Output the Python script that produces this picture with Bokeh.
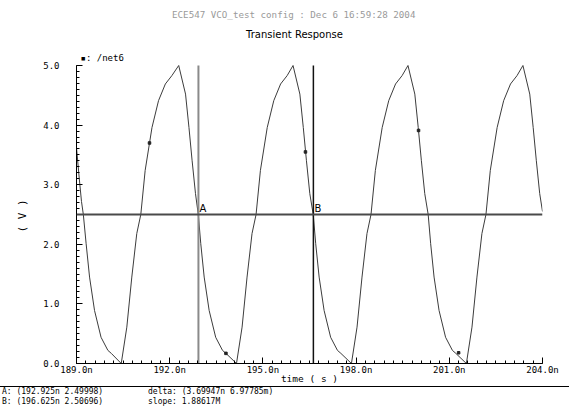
from bokeh.plotting import figure
from bokeh.layouts import column
from bokeh.models import (Range1d, SingleIntervalTicker, PrintfTickFormatter,
                          Span, Label, Title, Div)
from bokeh.embed import file_html
from bokeh.resources import INLINE

# /net6 transient waveform (time in ns, voltage in V)
time_ns = [
    189.00, 189.09, 189.16, 189.22, 189.31, 189.42, 189.58, 189.79, 190.01, 190.12, 190.44,
    190.62, 190.78, 190.94, 191.07, 191.21, 191.43, 191.64, 191.86, 192.07, 192.29,
    192.51, 192.62, 192.72, 192.83, 192.92, 193.00, 193.11, 193.27, 193.48, 193.70, 193.81, 194.15,
    194.33, 194.49, 194.65, 194.78, 194.92, 195.14, 195.35, 195.57, 195.78, 195.97,
    196.19, 196.30, 196.40, 196.51, 196.62, 196.70, 196.81, 196.97, 197.18, 197.40, 197.51, 197.85,
    198.03, 198.19, 198.35, 198.48, 198.62, 198.84, 199.05, 199.27, 199.48, 199.67,
    199.89, 200.00, 200.10, 200.21, 200.32, 200.40, 200.51, 200.67, 200.88, 201.10, 201.21, 201.55,
    201.73, 201.89, 202.05, 202.18, 202.32, 202.54, 202.75, 202.97, 203.18, 203.37,
    203.59, 203.70, 203.80, 203.91, 204.00,
]
net6_v = [
    3.62, 3.10, 2.72, 2.50, 2.01, 1.45, 0.89, 0.44, 0.22, 0.17, 0.00,
    0.61, 1.45, 2.18, 2.50, 3.24, 3.96, 4.41, 4.69, 4.83, 5.00,
    4.52, 3.96, 3.41, 2.85, 2.50, 2.01, 1.45, 0.89, 0.44, 0.22, 0.17, 0.00,
    0.61, 1.45, 2.18, 2.50, 3.24, 3.96, 4.41, 4.69, 4.83, 5.00,
    4.52, 3.96, 3.41, 2.85, 2.50, 2.01, 1.45, 0.89, 0.44, 0.22, 0.17, 0.00,
    0.61, 1.45, 2.18, 2.50, 3.24, 3.96, 4.41, 4.69, 4.83, 5.00,
    4.52, 3.96, 3.41, 2.85, 2.50, 2.01, 1.45, 0.89, 0.44, 0.22, 0.17, 0.00,
    0.61, 1.45, 2.18, 2.50, 3.24, 3.96, 4.41, 4.69, 4.83, 5.00,
    4.52, 3.96, 3.41, 2.85, 2.55,
]

# trace markers along the curve
marker_t = [191.35, 193.81, 196.37, 200.01, 201.30]
marker_v = [3.70, 0.17, 3.55, 3.91, 0.18]

# cursor readouts
cursor_a = (192.925, 2.49998)
cursor_b = (196.625, 2.50696)
cursor_level = 2.5

title_text = "ECE547 VCO_test config : Dec  6 16:59:28 2004"
subtitle_text = "Transient Response"
trace_name = "\u25aa: /net6"
readout_a = "A: (192.925n 2.49998)"
readout_b = "B: (196.625n 2.50696)"
readout_delta = "delta: (3.69947n 6.97785m)"
readout_slope = "slope: 1.88617M"

MONO = "DejaVu Sans Mono"
SANS = "DejaVu Sans"

W = 569
LEFT, RIGHT = 76, 27
FRAME_W = W - LEFT - RIGHT
FRAME_H = 363         # frame runs from the top edge down to the time axis
V_TOP_PX = 65         # 5.0 V sits this far below the top edge
V_MAX = 5.0
# extend the y range upward so the header texts live inside the frame
y_end = V_MAX * FRAME_H / (FRAME_H - V_TOP_PX)

p = figure(frame_width=FRAME_W, frame_height=FRAME_H,
           output_backend="svg", toolbar_location=None,
           x_range=Range1d(189, 204), y_range=Range1d(0, y_end),
           min_border_left=LEFT, min_border_right=RIGHT,
           min_border_top=0, min_border_bottom=0)
p.outline_line_color = None
p.grid.visible = False
p.background_fill_color = "white"
p.border_fill_color = "white"

# axes
for ax in (p.xaxis[0], p.yaxis[0]):
    ax.axis_line_color = "black"
    ax.axis_line_width = 1
    ax.major_tick_in = 6
    ax.major_tick_out = 0
    ax.minor_tick_in = 3
    ax.minor_tick_out = 0
    ax.major_tick_line_color = "black"
    ax.minor_tick_line_color = "black"
    ax.major_label_text_font = MONO
    ax.major_label_text_font_size = "9px"
    ax.major_label_text_color = "black"
    ax.axis_label_text_font = MONO
    ax.axis_label_text_font_style = "normal"
    ax.axis_label_text_color = "black"

p.xaxis.ticker = SingleIntervalTicker(interval=3, num_minor_ticks=10)
p.xaxis.formatter = PrintfTickFormatter(format="%.1fn")
p.xaxis.major_label_standoff = 1
p.xaxis.axis_label = "time ( s )"
p.xaxis.axis_label_text_font_size = "9.5px"
p.xaxis.axis_label_standoff = -5

p.yaxis.bounds = (0, V_MAX)
p.yaxis.ticker = SingleIntervalTicker(interval=1, num_minor_ticks=10)
p.yaxis.formatter = PrintfTickFormatter(format="%.1f")
p.yaxis.major_label_standoff = 17

# vertical-axis caption, placed alongside the 0..5 V span
p.add_layout(Title(text="( V )", align="left", offset=131, standoff=24,
                   text_font=MONO, text_font_size="11px",
                   text_font_style="normal", text_color="black"), "left")

# waveform
p.line(time_ns, net6_v, line_color="#3c3c3c", line_width=1)
p.scatter(marker_t, marker_v, marker="square", size=2.5, fill_color="#222222",
          line_color="#222222")

# cursors
p.add_layout(Span(location=cursor_level, dimension="width",
                  line_color="#4a4a4a", line_width=2))
p.segment(x0=[cursor_a[0]], y0=[0], x1=[cursor_a[0]], y1=[V_MAX],
          line_color="#8a8a8a", line_width=2)
p.segment(x0=[cursor_b[0]], y0=[0], x1=[cursor_b[0]], y1=[V_MAX],
          line_color="#111111", line_width=1.5)
p.add_layout(Label(x=cursor_a[0], y=cursor_level, text="A", x_offset=1, y_offset=1,
                   text_font=SANS, text_font_size="10px", text_color="black"))
p.add_layout(Label(x=cursor_b[0], y=cursor_level, text="B", x_offset=1, y_offset=1,
                   text_font=SANS, text_font_size="10px", text_color="black"))


def header(px, py, text, **kw):
    """Header text at a canvas pixel position (measured from the top-left)."""
    p.add_layout(Label(x=px - LEFT, y=FRAME_H - py, x_units="screen", y_units="screen",
                       text=text, text_baseline="middle", **kw))


header(296, 14, title_text, text_align="center",
       text_font=MONO, text_font_size="9.2px", text_color="#9a9a9a")
header(294, 34, subtitle_text, text_align="center",
       text_font=SANS, text_font_size="10px", text_color="black")
header(80, 57, trace_name, text_align="left",
       text_font=MONO, text_font_size="9px", text_color="black")

# cursor readout strip below the plot
span_css = "position:absolute;white-space:pre;line-height:9px;"
readouts = "".join(
    f'<span style="{span_css}left:{x}px;top:{y}px;">{t}</span>'
    for t, x, y in ((readout_a, 2, 0), (readout_b, 2, 10),
                    (readout_delta, 148, 0), (readout_slope, 148, 10))
)
info = Div(
    text=(f'<div style="position:relative;width:{W}px;height:21px;'
          f'border-top:1px solid black;font-family:\'{MONO}\';font-size:8px;'
          f'color:black;background:white;">{readouts}</div>'),
    width=W, height=22, margin=0,
)

layout = column(p, info, spacing=0)
open("out.html", "w").write(file_html(layout, INLINE))
